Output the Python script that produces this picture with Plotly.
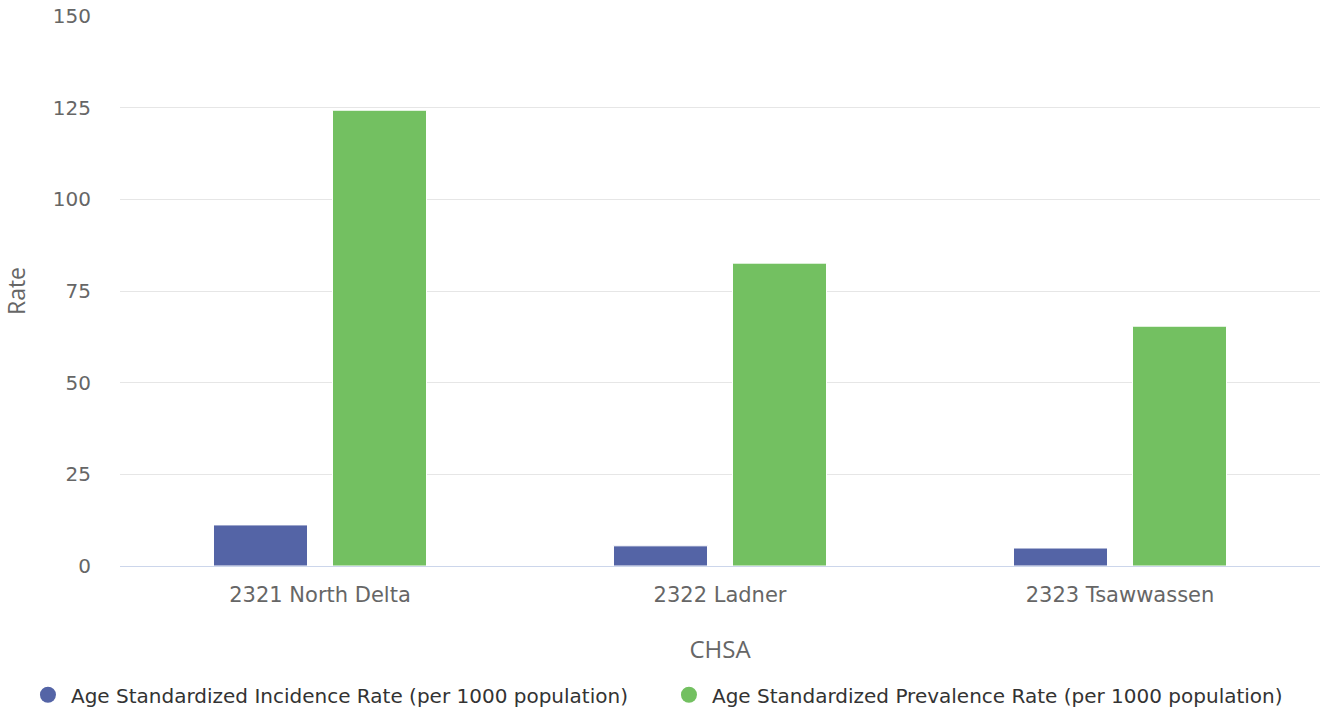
import plotly.graph_objects as go

categories = ["2321 North Delta", "2322 Ladner", "2323 Tsawwassen"]
incidence = [11.2, 5.5, 4.9]
prevalence = [124.3, 82.6, 65.4]
series_names = ["Age Standardized Incidence Rate (per 1000 population)",
                "Age Standardized Prevalence Rate (per 1000 population)"]
colors = ["#5464a6", "#73c061"]
y_ticks = [0, 25, 50, 75, 100, 125, 150]

FONT = "DejaVu Sans"
TFONT = "Open Sans"

fig = go.Figure()
for vals, name, col in zip([incidence, prevalence], series_names, colors):
    fig.add_trace(go.Bar(x=categories, y=vals, name=name, marker_color=col,
                         marker_line=dict(color="white", width=1),
                         showlegend=False))
for name, col in zip(series_names, colors):
    fig.add_trace(go.Scatter(x=[None], y=[None], mode="markers", name=name,
                             marker=dict(symbol="circle", size=16, color=col)))

fig.update_layout(
    width=1321, height=713,
    margin=dict(l=120, r=1, t=16, b=147, autoexpand=False),
    paper_bgcolor="white", plot_bgcolor="white",
    barmode="group", bargap=0.405, bargroupgap=0.21,
    font=dict(family=FONT, color="#666666", size=19),
    showlegend=True,
    legend=dict(orientation="h", x=-0.0792, xanchor="left", y=-0.1986, yanchor="top",
                font=dict(family=FONT, size=20, color="#333333"),
                itemwidth=36, tracegroupgap=0, entrywidth=590, entrywidthmode="pixels"),
    xaxis=dict(showline=True, linecolor="#ccd6eb", linewidth=1, ticks="",
               showgrid=False, automargin=False, ticklabelstandoff=10,
               tickfont=dict(size=21, color="#666666"),
               title=dict(text="CHSA", font=dict(family=TFONT, size=24, color="#666666"),
                          standoff=34)),
    yaxis=dict(range=[0, 150], tickvals=y_ticks, showgrid=True, gridcolor="#e6e6e6",
               zeroline=False, showline=False, ticks="", automargin=False,
               ticklabelstandoff=28,
               tickfont=dict(size=20, color="#666666"),
               title=dict(text="Rate", font=dict(family=TFONT, size=23, color="#666666"),
                          standoff=20)),
)

fig.write_html("out.html", config={"displayModeBar": False},
               post_script="document.body.style.margin='0px';")
